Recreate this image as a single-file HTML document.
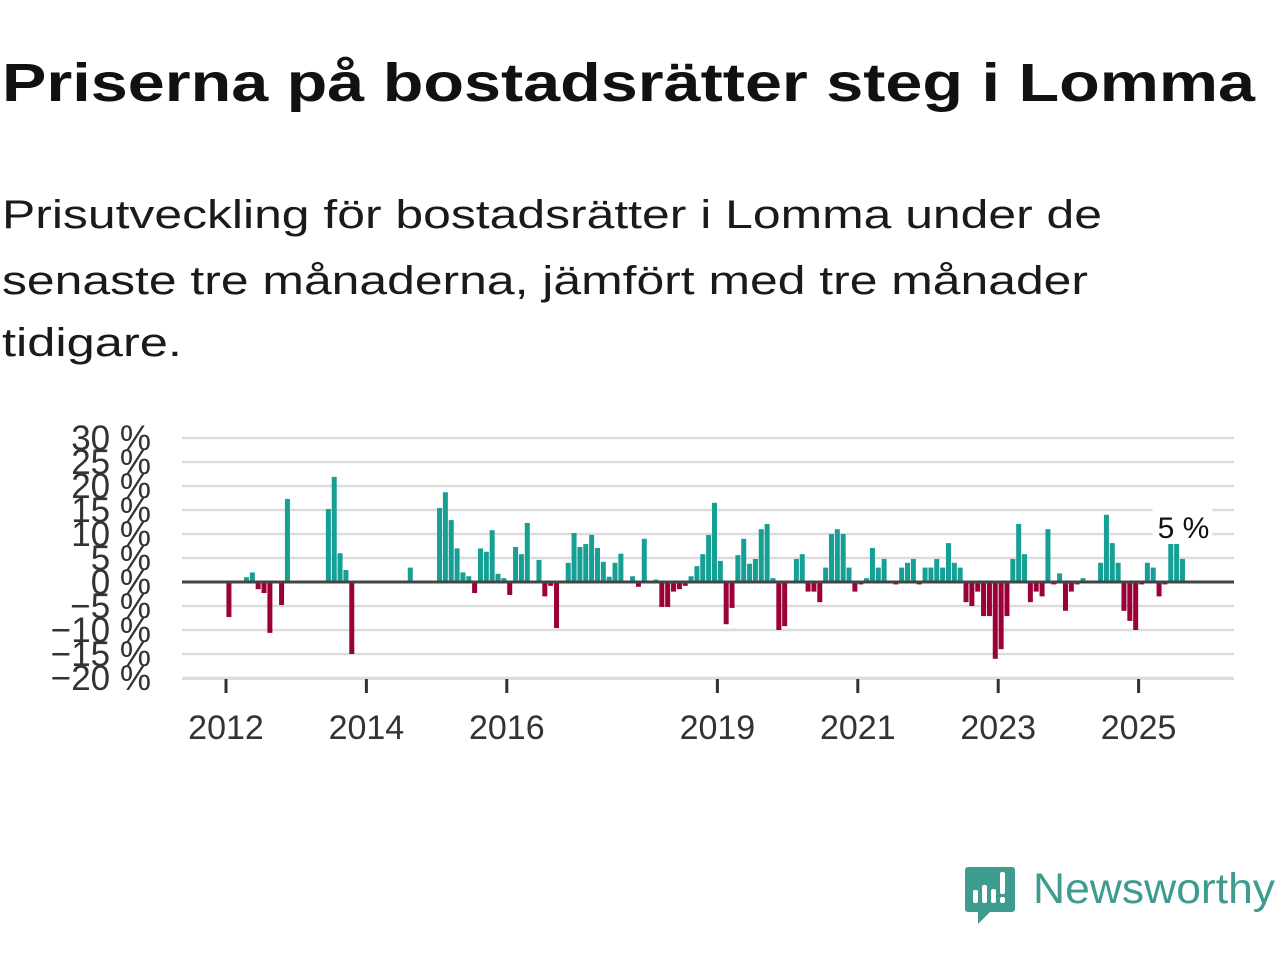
<!DOCTYPE html>
<html><head><meta charset="utf-8"><style>
html,body{margin:0;padding:0;background:#fff;width:1280px;height:960px;overflow:hidden}
svg{display:block;font-family:"Liberation Sans",sans-serif}
</style></head><body>
<svg id="root" width="1280" height="960" viewBox="0 0 1280 960">
<text x="2" y="101" font-size="54" font-weight="bold" fill="#111" textLength="1253" lengthAdjust="spacingAndGlyphs">Priserna på bostadsrätter steg i Lomma</text>
<g fill="#1a1a1a" font-size="40">
<text x="2" y="228" textLength="1100" lengthAdjust="spacingAndGlyphs">Prisutveckling för bostadsrätter i Lomma under de</text>
<text x="2" y="294" textLength="1086" lengthAdjust="spacingAndGlyphs">senaste tre månaderna, jämfört med tre månader</text>
<text x="2" y="356" textLength="180" lengthAdjust="spacingAndGlyphs">tidigare.</text>
</g>
<g id="grid"></g>
<g id="yaxis"></g>
<g id="bars"></g>
<g id="xaxis"></g>
<g id="anno"></g>
<g>
<path d="M968 867 h44 a3 3 0 0 1 3 3 v39 a3 3 0 0 1 -3 3 h-22 l-12 12 v-12 h-10 a3 3 0 0 1 -3 -3 v-39 a3 3 0 0 1 3 -3z" fill="#3d9b8f"/>
<rect x="973" y="890" width="5" height="13" rx="2" fill="#fff"/>
<rect x="982" y="885" width="5" height="18" rx="2" fill="#fff"/>
<rect x="991" y="889" width="5" height="14" rx="2" fill="#fff"/>
<rect x="1000" y="872" width="5" height="22" rx="2" fill="#fff"/>
<rect x="1000" y="897" width="5" height="6" rx="2" fill="#fff"/>
<text x="1033" y="903" font-size="43" fill="#3d9b8f" textLength="242" lengthAdjust="spacingAndGlyphs">Newsworthy</text>
</g>
</svg>
<script>
const startYear = 2012;
const values = [-7.3,null,null,1,2,-1.5,-2.3,-10.6,0.3,-4.8,17.3,null,
null,null,null,null,null,15.2,21.9,6,2.5,-15,null,null,
null,null,null,null,null,null,null,3,null,null,null,null,
15.4,18.7,12.9,7,2,1.2,-2.3,7,6.3,10.8,1.7,0.8,
-2.7,7.3,5.8,12.3,0.3,4.6,-3,-0.8,-9.6,0.3,4,10.2,
7.3,7.9,9.8,7.1,4.2,1.1,4,5.9,null,1.2,-1,9,
null,0.5,-5.2,-5.2,-2,-1.5,-0.8,1.2,3.3,5.8,9.8,16.5,
4.4,-8.8,-5.4,5.6,9,3.8,4.8,11,12.1,0.8,-10,-9.2,
null,4.8,5.8,-2,-2,-4.2,3,10,11,10,3,-2,
-0.5,0.8,7.1,3,4.8,null,-0.5,3,4,4.8,-0.5,3,
3,4.8,3,8.1,4,3,-4.2,-5,-2,-7.1,-7.1,-16,
-14,-7.1,4.8,12.1,5.8,-4.2,-2,-3,11,-0.5,1.8,-6,
-2,-0.5,0.8,null,null,4,14,8.1,4,-6,-8.1,-10,
-0.5,4,3,-3,-0.5,8.1,9,4.8];
const yTicks = [-20,-15,-10,-5,0,5,10,15,20,25,30];
const xTickYears = [2012,2014,2016,2019,2021,2023,2025];
const lastLabel = "5 %";

const NS="http://www.w3.org/2000/svg";
const x0=226, pxYear=70.2, pxMonth=pxYear/12, zeroY=582, pxPct=4.8;
const xM=i=>x0+(i+0.5)*pxMonth;
const xY=y=>x0+(y-startYear)*pxYear;
const yV=v=>zeroY-v*pxPct;
function mk(tag,attrs,parent){const e=document.createElementNS(NS,tag);for(const k in attrs)e.setAttribute(k,attrs[k]);parent.appendChild(e);return e;}
const grid=document.getElementById('grid'),yaxis=document.getElementById('yaxis'),bars=document.getElementById('bars'),xaxis=document.getElementById('xaxis'),anno=document.getElementById('anno');
yTicks.forEach(t=>{
  if(t!==0){const l=mk('line',{x1:182,x2:1234,y1:yV(t),y2:yV(t),stroke:'#dcdcdc','stroke-width':2.5},grid);
  
  }
  const tx=mk('text',{x:151,y:yV(t)+12,'font-size':35,fill:'#333','text-anchor':'end'},yaxis);
  tx.textContent=(t<0?'\u2212'+(-t):t)+' %';
  
  
});
values.forEach((v,i)=>{
  if(v===null)return;
  const y=v>=0?yV(v):zeroY, h=Math.abs(v)*pxPct;
  const r=mk('rect',{x:xM(i)-2.5,y:y,width:5,height:h,fill:v>=0?'#16a095':'#9b0038'},bars);
  
  
});
const zl=mk('line',{x1:182,x2:1234,y1:zeroY,y2:zeroY,stroke:'#444','stroke-width':3},xaxis);


const bl=mk('line',{x1:182,x2:1234,y1:679,y2:679,stroke:'#dcdcdc','stroke-width':2},xaxis);


xTickYears.forEach(yr=>{
  const tk=mk('line',{x1:xY(yr),x2:xY(yr),y1:679,y2:693,stroke:'#333','stroke-width':3},xaxis);
  
  
  const tx=mk('text',{x:xY(yr),y:739,'font-size':34,fill:'#333','text-anchor':'middle'},xaxis);
  tx.textContent=yr;
  
  
});
const li=values.length-1;
const bg=mk('rect',{x:xM(li)-30,y:508,width:60,height:36,fill:'#fff'},anno);


const at=mk('text',{x:xM(li)+1,y:538,'font-size':30,fill:'#111','text-anchor':'middle'},anno);
at.textContent=lastLabel;


</script>
</body></html>
